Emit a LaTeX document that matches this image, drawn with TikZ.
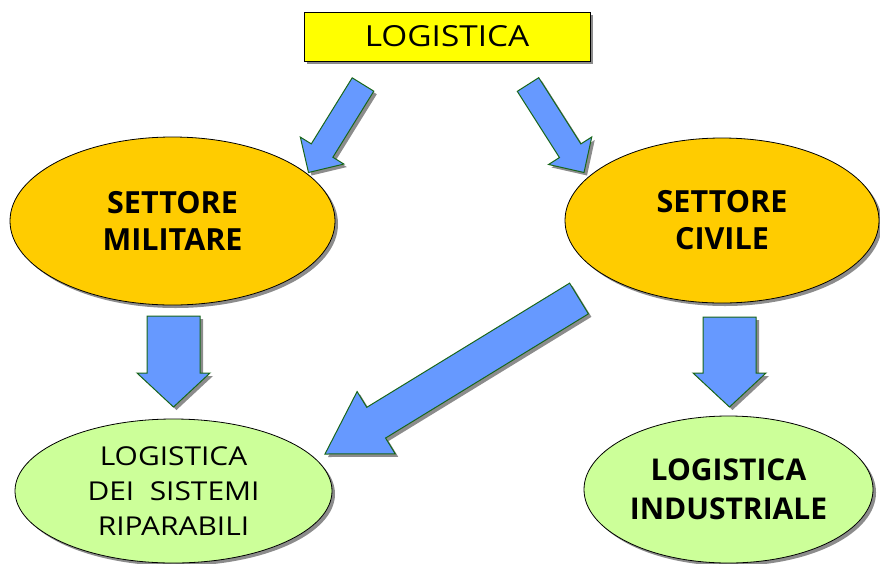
\documentclass[tikz,border=0pt]{standalone}
\usepackage{fontspec}
\setmainfont{Open Sans}
\newfontfamily\widefont[FakeStretch=1.15]{Open Sans}
\usetikzlibrary{shapes.geometric,shadows,calc}

\definecolor{TitleColor}{rgb}{1.0,1.0,0.0}
\definecolor{SectorColor}{rgb}{1.0,0.8,0.0}
\definecolor{BranchColor}{rgb}{0.8,1.0,0.6}
\definecolor{ArrowColor}{rgb}{0.4,0.6,1.0}
\definecolor{ArrowEdge}{rgb}{0.1,0.4,0.1}
\definecolor{ShadowColor}{rgb}{0.55,0.55,0.55}
\tikzstyle{shadowed}=[drop shadow={shadow xshift=3pt, shadow yshift=-3pt, fill=ShadowColor, opacity=1}]
\tikzstyle{base}=[draw=black,
                  line width=0.8pt,
                  inner sep=0pt,
                  text centered,
                  shadowed]
\tikzstyle{title}=[base, rectangle, fill=TitleColor, font=\widefont\fontsize{29}{36}\selectfont]
\tikzstyle{sector}=[base, ellipse, fill=SectorColor, align=center, font=\fontsize{30.5}{37}\selectfont\bfseries]
\tikzstyle{branch}=[base, ellipse, fill=BranchColor, align=center]
\tikzstyle{bigarrow}=[draw=ArrowEdge, fill=ArrowColor, line width=1pt, line join=miter, shadowed]

% tail, tip, half shaft, half head, head length
\newcommand{\blockarrow}[5]{%
  \coordinate (hb) at ($(#2)!#5!(#1)$);
  \path[bigarrow] ($(#1)!#3!90:(#2)$) -- ($(hb)!#3!90:(#2)$) -- ($(hb)!#4!90:(#2)$) -- (#2)
                  -- ($(hb)!#4!-90:(#2)$) -- ($(hb)!#3!-90:(#2)$) -- ($(#1)!#3!-90:(#2)$) -- cycle;
}

\begin{document}
\begin{tikzpicture}[x=1pt, y=-1pt]
    \useasboundingbox (0,0) rectangle (880,563);

    \node at (447.0,  36.5) (logistica)   [title, minimum width=286pt, minimum height=49pt]    {LOGISTICA};
    \node at (172.5, 221.0) (militare)    [sector, minimum width=325pt, minimum height=168pt]  {SETTORE\\MILITARE};
    \node at (722.0, 220.5) (civile)      [sector, minimum width=314pt, minimum height=165pt]  {SETTORE\\CIVILE};
    \node at (173.5, 491.0) (riparabili)  [branch, minimum width=317pt, minimum height=144pt,
                                           font=\widefont\fontsize{26}{35}\selectfont]         {LOGISTICA\\DEI\ \ SISTEMI\\RIPARABILI};
    \node at (728.5, 489.5) (industriale) [branch, minimum width=289pt, minimum height=147pt,
                                           font=\fontsize{30}{39}\selectfont\bfseries]         {LOGISTICA\\INDUSTRIALE};

    \coordinate (tomil_s)  at (363.0,  84.5);
    \coordinate (tomil_e)  at (308.5, 172.5);
    \coordinate (tociv_s)  at (528.0,  84.5);
    \coordinate (tociv_e)  at (584.0, 172.5);
    \coordinate (milrip_s) at (173.5, 316.0);
    \coordinate (milrip_e) at (173.5, 407.0);
    \coordinate (civind_s) at (729.5, 317.0);
    \coordinate (civind_e) at (729.5, 407.0);
    \coordinate (civrip_s) at (579.0, 298.5);
    \coordinate (civrip_e) at (325.0, 454.0);

    \blockarrow{tomil_s}{tomil_e}{12.7pt}{25.6pt}{25.8pt}
    \blockarrow{tociv_s}{tociv_e}{12.7pt}{25.6pt}{25.8pt}
    \blockarrow{milrip_s}{milrip_e}{26.5pt}{36.5pt}{34pt}
    \blockarrow{civind_s}{civind_e}{26.5pt}{36.5pt}{34pt}
    \blockarrow{civrip_s}{civrip_e}{18pt}{36.5pt}{60pt}
\end{tikzpicture}
\end{document}
